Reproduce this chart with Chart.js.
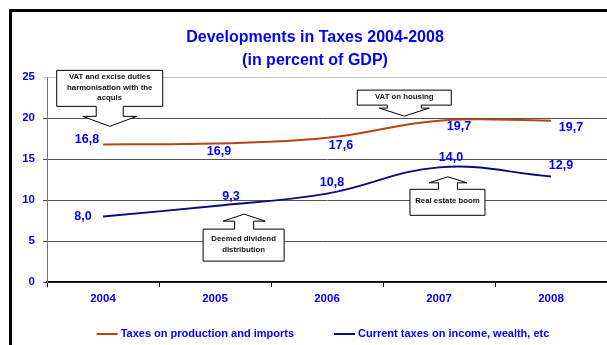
<!DOCTYPE html>
<html>
<head>
    <title>Developments in Taxes 2004-2008</title>
    <script src="https://cdn.jsdelivr.net/npm/chart.js"></script>
    <style>
        body {
            margin: 0;
            background: #fff;
            overflow: hidden;
        }
        .wrap {
            position: relative;
            width: 607px;
            height: 345px;
            overflow: hidden;
        }
        .frame {
            position: absolute;
            left: 9px;
            top: 9px;
            width: 700px;
            height: 400px;
            border: 3px solid #000;
        }
        canvas {
            position: absolute;
            left: 0;
            top: 0;
        }
    </style>
</head>
<body>
    <div class="wrap">
        <div class="frame"></div>
        <canvas id="taxChart" width="607" height="345"></canvas>
    </div>

    <script>
        const years = ['2004', '2005', '2006', '2007', '2008'];
        const productionTaxes = [16.8, 16.9, 17.6, 19.7, 19.7];
        const incomeTaxes = [8.0, 9.3, 10.8, 14.0, 12.9];
        const yTicks = [0, 5, 10, 15, 20, 25];

        // where each value label sits relative to its point (px)
        const productionLabelOffsets = [[-16, -5], [4, 8], [14, 8], [20, 6], [20, 7]];
        const incomeLabelOffsets = [[-20, 0], [16, -9], [5, -11], [12, -10], [10, -11]];

        // callouts: tip anchored at (category index, value)
        const callouts = [
            { lines: ['VAT and excise duties', 'harmonisation with the', 'acquis'],
              at: [0.06, 19.0], dir: 'down', box: [-53, 53, -56, -20], neck: 13.5, head: 27, base: -10 },
            { lines: ['VAT on housing'],
              at: [2.69, 20.25], dir: 'down', box: [-47, 47, -26, -11], neck: 17, head: 25, base: -8 },
            { lines: ['Real estate boom'],
              at: [3.08, 12.85], dir: 'up', box: [-38, 37, 12.5, 38.5], neck: 9.5, head: 19, base: 6 },
            { lines: ['Deemed dividend', 'distribution'],
              at: [1.26, 8.3], dir: 'up', box: [-41, 40, 15, 47], neck: 9.5, head: 21, base: 7 }
        ];

        const BLUE = '#0000ff';
        const FONT = "'Liberation Sans', Arial, sans-serif";

        const valueLabels = {
            id: 'valueLabels',
            afterDatasetsDraw(chart) {
                const ctx = chart.ctx;
                const offsets = [productionLabelOffsets, incomeLabelOffsets];
                ctx.save();
                ctx.font = 'bold 12.5px ' + FONT;
                ctx.fillStyle = BLUE;
                ctx.textAlign = 'center';
                ctx.textBaseline = 'middle';
                chart.data.datasets.forEach((ds, i) => {
                    chart.getDatasetMeta(i).data.forEach((pt, j) => {
                        const txt = ds.data[j].toFixed(1).replace('.', ',');
                        ctx.fillText(txt, pt.x + offsets[i][j][0], pt.y + offsets[i][j][1]);
                    });
                });
                ctx.restore();
            }
        };

        const calloutBoxes = {
            id: 'calloutBoxes',
            afterDatasetsDraw(chart) {
                const ctx = chart.ctx;
                const xs = chart.scales.x, ys = chart.scales.y;
                ctx.save();
                callouts.forEach(c => {
                    const tx = xs.getPixelForValue(c.at[0]);
                    const ty = ys.getPixelForValue(c.at[1]);
                    const [x0, x1, y0, y1] = c.box;
                    // side of the box the arrow leaves from, and the far side
                    const near = c.dir === 'down' ? y1 : y0;
                    const far = c.dir === 'down' ? y0 : y1;
                    ctx.beginPath();
                    ctx.moveTo(tx + x0, ty + far);
                    ctx.lineTo(tx + x1, ty + far);
                    ctx.lineTo(tx + x1, ty + near);
                    ctx.lineTo(tx + c.neck, ty + near);
                    ctx.lineTo(tx + c.neck, ty + c.base);
                    ctx.lineTo(tx + c.head, ty + c.base);
                    ctx.lineTo(tx, ty);
                    ctx.lineTo(tx - c.head, ty + c.base);
                    ctx.lineTo(tx - c.neck, ty + c.base);
                    ctx.lineTo(tx - c.neck, ty + near);
                    ctx.lineTo(tx + x0, ty + near);
                    ctx.closePath();
                    ctx.fillStyle = '#fff';
                    ctx.fill();
                    ctx.strokeStyle = '#000';
                    ctx.lineWidth = 1;
                    ctx.stroke();

                    ctx.fillStyle = '#111';
                    ctx.font = 'bold 7.8px ' + FONT;
                    ctx.textAlign = 'center';
                    ctx.textBaseline = 'middle';
                    const lh = 10.5;
                    const cy = ty + (y0 + y1) / 2 - (c.lines.length - 1) * lh / 2;
                    c.lines.forEach((ln, k) => {
                        ctx.fillText(ln, tx + (x0 + x1) / 2, cy + k * lh - 1);
                    });
                });
                ctx.restore();
            }
        };

        // legend drawn as a line sample plus text, one row under the axis
        const lineLegend = {
            id: 'lineLegend',
            afterDraw(chart) {
                const ctx = chart.ctx;
                const area = chart.chartArea;
                const sample = 21, gap = 3, spacing = 40;
                ctx.save();
                ctx.font = 'bold 11px ' + FONT;
                const items = chart.data.datasets.map(ds => ({
                    text: ds.label, color: ds.borderColor, w: ctx.measureText(ds.label).width
                }));
                let total = items.reduce((s, it) => s + sample + gap + it.w, 0) + spacing * (items.length - 1);
                let x = (area.left + area.right) / 2 - 4 - total / 2;
                const y = 334;
                ctx.textBaseline = 'middle';
                ctx.textAlign = 'left';
                items.forEach(it => {
                    ctx.strokeStyle = it.color;
                    ctx.lineWidth = 2;
                    ctx.beginPath();
                    ctx.moveTo(x, y);
                    ctx.lineTo(x + sample, y);
                    ctx.stroke();
                    ctx.fillStyle = BLUE;
                    ctx.fillText(it.text, x + sample + gap, y);
                    x += sample + gap + it.w + spacing;
                });
                ctx.restore();
            }
        };

        const ctx = document.getElementById('taxChart').getContext('2d');
        new Chart(ctx, {
            type: 'line',
            data: {
                labels: years,
                datasets: [
                    {
                        label: 'Taxes on production and imports',
                        data: productionTaxes,
                        borderColor: '#b5460f',
                        backgroundColor: '#b5460f',
                        borderWidth: 2,
                        pointRadius: 0,
                        tension: 0.4
                    },
                    {
                        label: 'Current taxes on income, wealth, etc',
                        data: incomeTaxes,
                        borderColor: '#0a0a82',
                        backgroundColor: '#0a0a82',
                        borderWidth: 2,
                        pointRadius: 0,
                        tension: 0.4
                    }
                ]
            },
            options: {
                responsive: false,
                animation: false,
                layout: { padding: { left: 23, right: 0, top: 0, bottom: 34 } },
                scales: {
                    x: {
                        offset: true,
                        grid: { offset: true, drawOnChartArea: false, tickLength: 5, color: '#000' },
                        border: { color: '#000', width: 1.5 },
                        ticks: { color: BLUE, font: { family: FONT, size: 11.5, weight: 'bold' }, padding: 5 }
                    },
                    y: {
                        min: 0,
                        max: 25,
                        afterBuildTicks(scale) { scale.ticks = yTicks.map(v => ({ value: v })); },
                        grid: {
                            tickLength: 4,
                            color: c => c.tick && c.tick.value === 25 ? '#c8c8c8' : '#555'
                        },
                        border: { color: '#777' },
                        ticks: { color: BLUE, font: { family: FONT, size: 11.5, weight: 'bold' }, padding: 8 },
                        afterFit(scale) { scale.width = 24; }
                    }
                },
                plugins: {
                    title: {
                        display: true,
                        text: ['Developments in Taxes 2004-2008', '(in percent of GDP)'],
                        color: BLUE,
                        font: { family: FONT, size: 16, weight: 'bold', lineHeight: 1.38 },
                        padding: { top: 27, bottom: 6 }
                    },
                    legend: { display: false },
                    tooltip: { enabled: false }
                }
            },
            plugins: [valueLabels, calloutBoxes, lineLegend]
        });
    </script>
</body>
</html>
